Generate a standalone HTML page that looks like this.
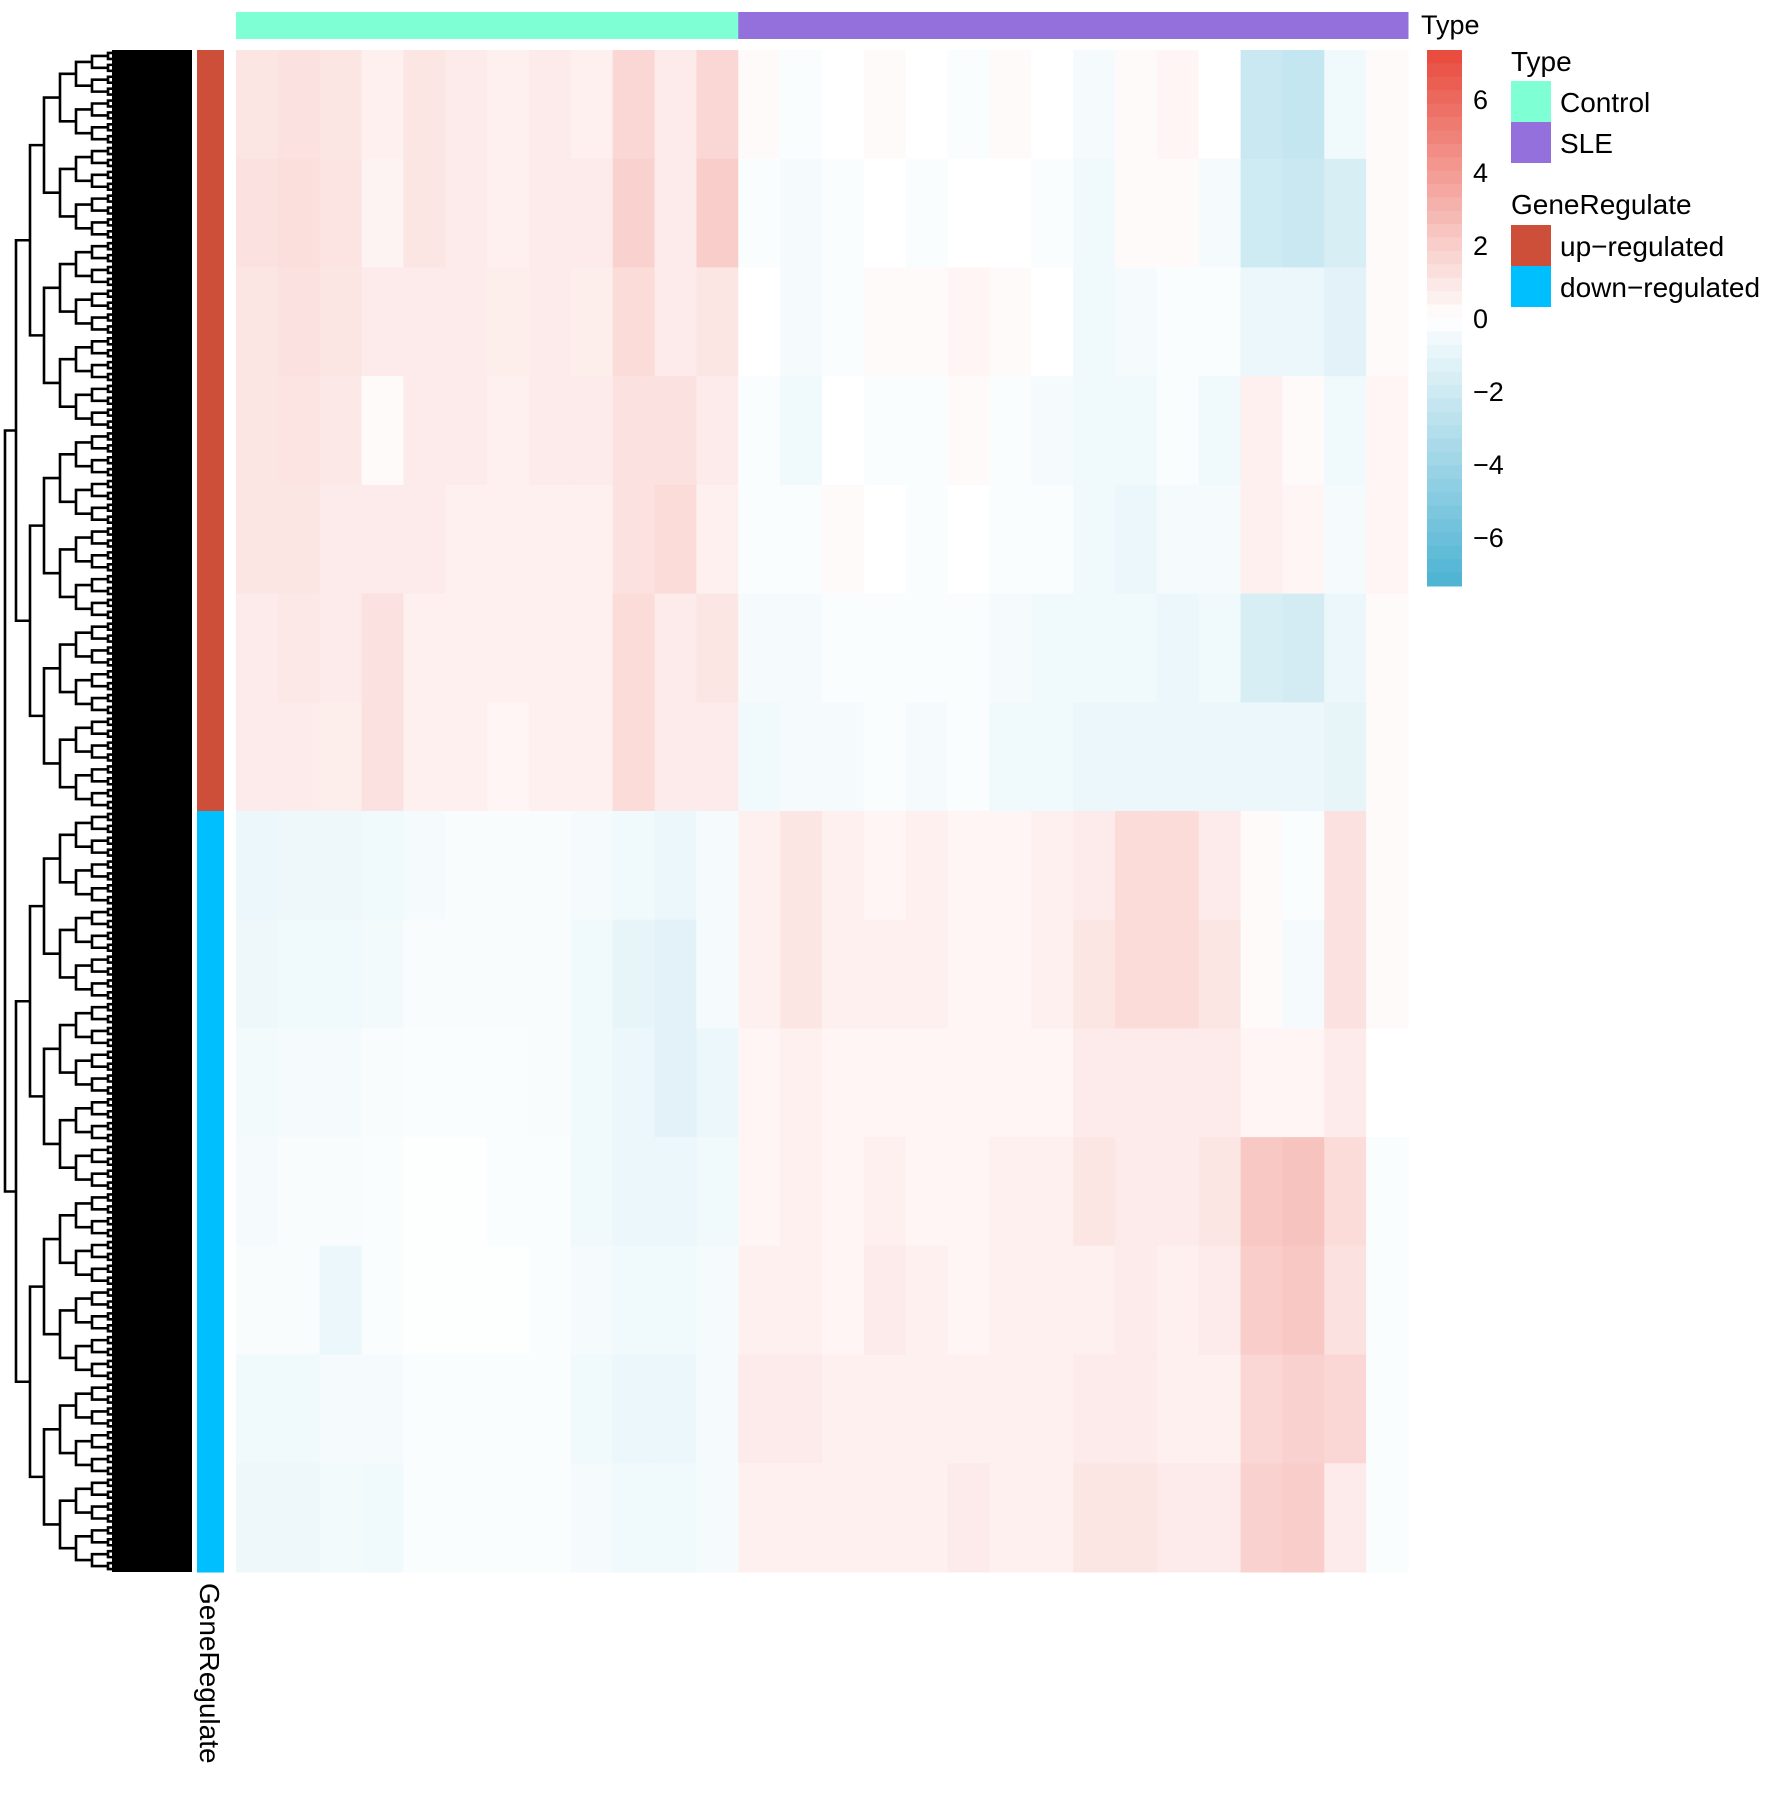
<!DOCTYPE html>
<html><head><meta charset="utf-8">
<style>
html,body{margin:0;padding:0;background:#fff;}
body{width:1772px;height:1795px;overflow:hidden;font-family:"Liberation Sans",sans-serif;}
svg text{font-family:"Liberation Sans",sans-serif;fill:#000;}
</style></head>
<body>
<svg id="chart" width="1772" height="1795" viewBox="0 0 1772 1795" xmlns="http://www.w3.org/2000/svg">
<g id="dendro"></g>
<g id="rowannot"></g>
<g id="colannot"></g>
<g id="cells"></g>
<g id="cbar"></g>
<text x="1421" y="34" font-size="27">Type</text>
<text transform="translate(200,1583) rotate(90)" font-size="28">GeneRegulate</text>
<g>
<text x="1511" y="71" font-size="28">Type</text>
<rect x="1511" y="81" width="40" height="41" fill="#7FFFD4"/>
<rect x="1511" y="122" width="40" height="41" fill="#9370DB"/>
<text x="1560" y="112" font-size="28">Control</text>
<text x="1560" y="153" font-size="28">SLE</text>
<text x="1511" y="214" font-size="28">GeneRegulate</text>
<rect x="1511" y="225" width="40" height="41" fill="#CD4F39"/>
<rect x="1511" y="266" width="40" height="41" fill="#00BFFF"/>
<text x="1560" y="256" font-size="28">up−regulated</text>
<text x="1560" y="297" font-size="28">down−regulated</text>
</g>
</svg>
<script>
// ---- data ----
const colTypes = ["Control","Control","Control","Control","Control","Control","Control","Control","Control","Control","Control","Control",
  "SLE","SLE","SLE","SLE","SLE","SLE","SLE","SLE","SLE","SLE","SLE","SLE","SLE","SLE","SLE","SLE"];
const rowGroups = ["up","up","up","up","up","up","up","down","down","down","down","down","down","down"];
const legendTicks = [6,4,2,0,-2,-4,-6];
// z-score values per row block (rows) x column (cols)
const values = [
 [1.0,1.2,1.0,0.6,1.0,0.8,0.6,0.8,0.6,1.6,0.8,1.6, 0.2,-0.2,0.0,0.2,0.0,-0.2,0.2,0.0,-0.4,0.2,0.4,0.0,-2.2,-2.4,-0.6,0.2],
 [1.2,1.3,1.1,0.5,1.0,0.8,0.6,0.8,0.8,1.8,0.8,2.0, -0.2,-0.4,-0.2,0.0,-0.2,0.0,0.0,-0.2,-0.6,0.2,0.2,-0.4,-2.0,-2.2,-1.6,0.2],
 [1.0,1.2,1.0,0.8,0.8,0.8,0.7,0.8,0.7,1.4,0.8,1.0, 0.0,-0.4,-0.2,0.2,0.2,0.4,0.2,0.0,-0.6,-0.4,-0.2,-0.2,-0.8,-0.8,-1.2,0.2],
 [1.0,1.1,0.9,0.2,0.8,0.8,0.6,0.8,0.8,1.2,1.2,0.8, -0.2,-0.6,0.0,-0.2,-0.2,0.2,-0.2,-0.4,-0.6,-0.6,-0.2,-0.6,0.6,0.2,-0.6,0.4],
 [1.0,1.0,0.8,0.8,0.8,0.6,0.6,0.6,0.6,1.2,1.4,0.6, -0.2,-0.2,0.2,0.0,-0.2,0.0,-0.2,-0.2,-0.6,-0.8,-0.4,-0.4,0.6,0.4,-0.4,0.4],
 [0.8,0.9,0.8,1.2,0.6,0.6,0.6,0.6,0.6,1.4,0.8,1.0, -0.4,-0.4,-0.2,-0.2,-0.2,-0.2,-0.4,-0.6,-0.6,-0.6,-0.8,-0.6,-1.6,-1.8,-0.8,0.2],
 [0.8,0.8,0.7,1.2,0.6,0.6,0.4,0.6,0.6,1.4,0.8,0.8, -0.6,-0.4,-0.4,-0.2,-0.4,-0.2,-0.6,-0.6,-0.8,-0.8,-0.8,-0.8,-0.8,-0.8,-1.0,0.2],
 [-0.8,-0.7,-0.7,-0.6,-0.4,-0.3,-0.3,-0.3,-0.4,-0.6,-0.8,-0.4, 0.6,1.0,0.6,0.4,0.6,0.4,0.4,0.6,0.8,1.4,1.4,0.8,0.2,-0.2,1.2,0.2],
 [-0.7,-0.6,-0.6,-0.5,-0.3,-0.3,-0.3,-0.3,-0.6,-1.0,-1.2,-0.4, 0.6,1.0,0.6,0.6,0.6,0.4,0.4,0.6,1.0,1.4,1.4,1.0,0.2,-0.4,1.2,0.2],
 [-0.5,-0.4,-0.4,-0.3,-0.2,-0.2,-0.2,-0.3,-0.6,-0.8,-1.2,-0.8, 0.4,0.6,0.4,0.4,0.4,0.4,0.4,0.4,0.8,0.8,0.8,0.8,0.4,0.4,0.8,0.0],
 [-0.4,-0.3,-0.3,-0.2,-0.1,-0.1,-0.2,-0.2,-0.6,-0.8,-0.8,-0.6, 0.4,0.6,0.4,0.6,0.4,0.4,0.6,0.6,1.0,0.8,0.8,1.0,2.2,2.4,1.4,-0.2],
 [-0.3,-0.3,-0.8,-0.2,-0.1,-0.1,-0.1,-0.2,-0.4,-0.6,-0.6,-0.4, 0.6,0.6,0.4,0.8,0.6,0.4,0.6,0.6,0.6,0.8,0.6,0.8,2.0,2.2,1.2,-0.2],
 [-0.6,-0.6,-0.4,-0.4,-0.2,-0.2,-0.2,-0.2,-0.6,-0.8,-0.8,-0.4, 0.8,0.8,0.6,0.6,0.6,0.6,0.6,0.6,0.8,0.8,0.6,0.6,1.6,1.8,1.6,-0.2],
 [-0.7,-0.7,-0.5,-0.6,-0.2,-0.2,-0.2,-0.2,-0.4,-0.6,-0.6,-0.4, 0.6,0.6,0.6,0.6,0.6,0.8,0.6,0.6,1.0,1.0,0.8,0.8,1.8,2.0,0.8,-0.2]
];
// ---- layout ----
const NS="http://www.w3.org/2000/svg";
const hmX0=236,hmX1=1408,hmY0=50,hmY1=1572;
const nCols=colTypes.length,nRows=rowGroups.length;
const cw=(hmX1-hmX0)/nCols,rh=(hmY1-hmY0)/nRows;
const xScale=i=>hmX0+i*cw;
const yScale=r=>hmY0+r*rh;
const vmin=-7.35,vmax=7.35;
const low=[75,178,210],mid=[255,255,255],high=[232,72,58];
function color(v){
  const t=Math.max(-1,Math.min(1,v/vmax));
  const a=t<0?low:high,f=Math.abs(t);
  const c=mid.map((m,k)=>Math.round(m+(a[k]-m)*f));
  return `rgb(${c[0]},${c[1]},${c[2]})`;
}
function mk(tag,attrs,parent){const e=document.createElementNS(NS,tag);for(const k in attrs)e.setAttribute(k,attrs[k]);parent.appendChild(e);return e;}
const cells=document.getElementById('cells');
values.forEach((row,r)=>{
  row.forEach((v,c)=>{
    const el=mk('rect',{x:xScale(c),y:yScale(r),width:cw+0.5,height:rh+0.5,fill:color(v)},cells);
    
    
  });
});
// column annotation
const colannot=document.getElementById('colannot');
colTypes.forEach((t,c)=>{
  const el=mk('rect',{x:xScale(c),y:12,width:cw+0.5,height:27,fill:t==="Control"?"#7FFFD4":"#9370DB"},colannot);
  
  
});
// row annotation
const rowannot=document.getElementById('rowannot');
rowGroups.forEach((g,r)=>{
  const el=mk('rect',{x:197,y:yScale(r),width:27,height:rh+0.5,fill:g==="up"?"#CD4F39":"#00BFFF"},rowannot);
  
  
});
// color bar
const cbar=document.getElementById('cbar');
const cbY0=50,cbY1=586,steps=40;
const cbScale=v=>cbY0+(vmax-v)/(vmax-vmin)*(cbY1-cbY0);
for(let i=0;i<steps;i++){
  const v=vmax-(i+0.5)*(vmax-vmin)/steps;
  const el=mk('rect',{x:1427,y:cbY0+i*(cbY1-cbY0)/steps,width:35,height:(cbY1-cbY0)/steps+0.5,fill:color(v)},cbar);
  
  
}
legendTicks.forEach(t=>{
  const el=mk('text',{x:1473,y:cbScale(t)+10,'font-size':27},cbar);
  el.textContent=t<0?'−'+Math.abs(t):String(t);
  
  
});
// dendrogram (structural drawing)
const dendro=document.getElementById('dendro');
const depth=9,nLeaves=1<<depth;
const lh=(hmY1-hmY0)/nLeaves;
const xs=[5,16,30,44,60,76,92,108,124,140];
let d='';
function build(lo,hi,lev){
  if(lev===depth){return (hmY0+(lo+0.5)*lh);}
  const m=(lo+hi)>>1;
  const ya=build(lo,m,lev+1),yb=build(m,hi,lev+1);
  const x=xs[lev],xc=lev+1===depth?192:xs[lev+1];
  d+=`M${xc} ${ya}H${x}V${yb}H${xc}`;
  return (ya+yb)/2;
}
build(0,nLeaves,0);
const p=mk('path',{d:d,stroke:'#000','stroke-width':2.6,fill:'none'},dendro);


const mass=mk('rect',{x:112,y:hmY0,width:80,height:hmY1-hmY0,fill:'#000'},dendro);


</script>
</body></html>
